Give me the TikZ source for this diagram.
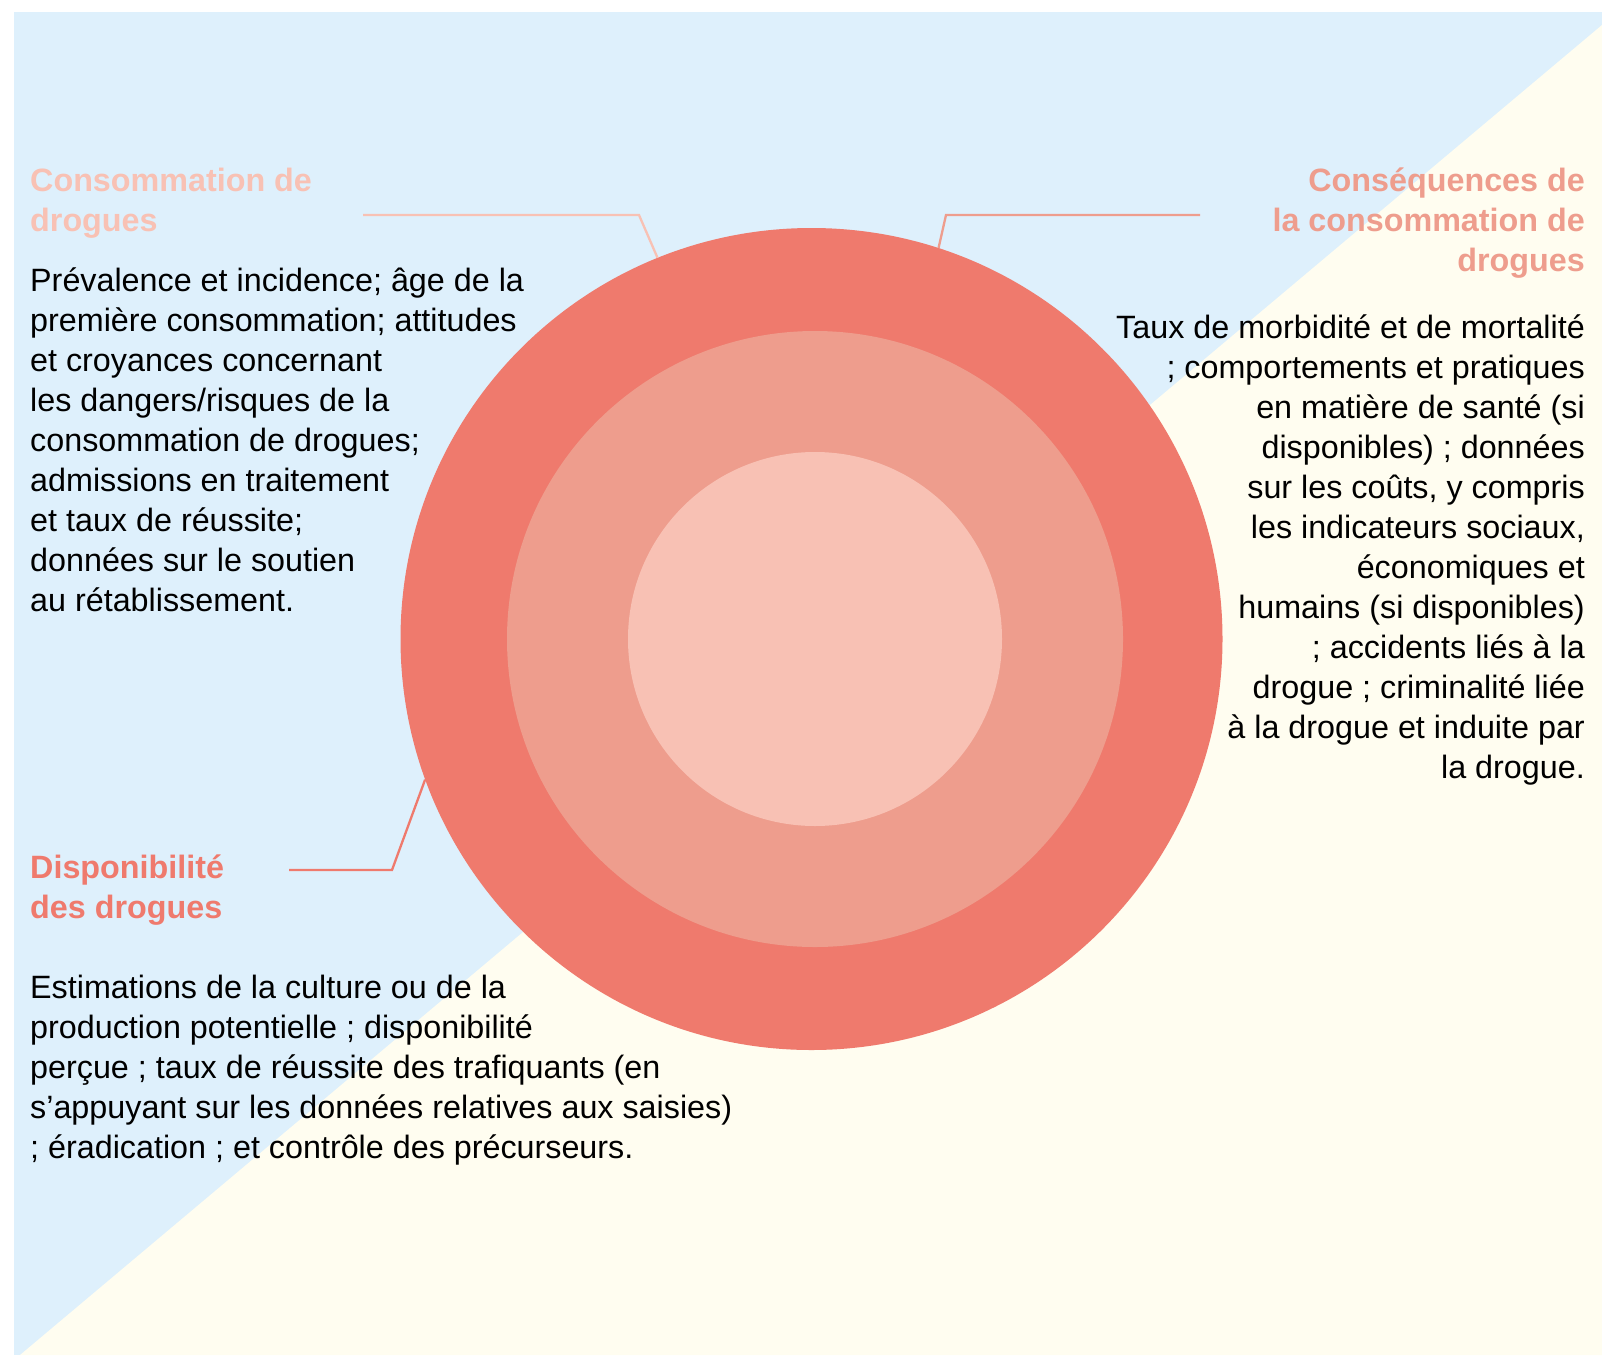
\documentclass[tikz,border=0pt]{standalone}
\usepackage{fontspec}
\setmainfont{Liberation Sans}

\definecolor{skyback}{HTML}{DEF0FC}
\definecolor{creamback}{HTML}{FFFDF0}
\definecolor{ringout}{HTML}{EF7A6D}
\definecolor{ringmid}{HTML}{EE9D8D}
\definecolor{ringin}{HTML}{F8C1B4}

\tikzset{
  ring/.style={circle, inner sep=0pt, draw=none, fill=#1},
  bodytext/.style={inner sep=0pt, font=\fontsize{32.3}{40}\selectfont},
  headtext/.style={inner sep=0pt, font=\fontsize{32.3}{40}\selectfont\bfseries, text=#1},
  leader/.style={line width=2.3pt, draw=#1},
}

\begin{document}
\begin{tikzpicture}[x=1pt,y=1pt,yscale=-1]
\useasboundingbox (0,0) rectangle (1602,1355);

%Shape: Background panel
\fill[skyback] (14,12) rectangle (1602,1355);
\fill[creamback] (1602,25) -- (1602,1355) -- (20,1355) -- cycle;

%Shape: Circles
\node[ring=ringout, minimum size=822] (outer) at (811.5,639) {};
\node[ring=ringmid, minimum size=616] (middle) at (815,639) {};
\node[ring=ringin, minimum size=374] (inner) at (815,639) {};

%Straight Lines: leaders
\coordinate (usestart) at (363,215);
\coordinate (usebend) at (639,215);
\coordinate (effstart) at (1200,215);
\coordinate (effbend) at (946,215);
\coordinate (supstart) at (289,870);
\coordinate (supbend) at (392,870);
\draw[leader=ringin] (usestart) -- (usebend) -- (outer.112.8);
\draw[leader=ringmid] (effstart) -- (effbend) -- (outer.72.2);
\draw[leader=ringout] (supstart) -- (supbend) -- (outer.200.7);

% Text Node (anchored at the baseline of the last line)
\node[headtext=ringin, align=left, anchor=base west] (usetitle) at (30,231) {Consommation de\\drogues};
% Text Node
\node[bodytext, align=left, anchor=base west] (usebody) at (30,611) {Prévalence et incidence; âge de la\\première consommation; attitudes\\et croyances concernant\\les dangers/risques de la\\consommation de drogues;\\admissions en traitement\\et taux de réussite;\\données sur le soutien\\au rétablissement.};
% Text Node
\node[headtext=ringmid, align=right, anchor=base east] (efftitle) at (1585,271) {Conséquences de\\la consommation de\\drogues};
% Text Node
\node[bodytext, align=right, anchor=base east] (effbody) at (1585,778) {Taux de morbidité et de mortalité\\; comportements et pratiques\\en matière de santé (si\\disponibles) ; données\\sur les coûts, y compris\\les indicateurs sociaux,\\économiques et\\humains (si disponibles)\\; accidents liés à la\\drogue ; criminalité liée\\à la drogue et induite par\\la drogue.};
% Text Node
\node[headtext=ringout, align=left, anchor=base west] (suptitle) at (30,918) {Disponibilité\\des drogues};
% Text Node
\node[bodytext, align=left, anchor=base west] (supbody) at (30,1158) {Estimations de la culture ou de la\\production potentielle ; disponibilité\\perçue ; taux de réussite des trafiquants (en\\s’appuyant sur les données relatives aux saisies)\\; éradication ; et contrôle des précurseurs.};

\end{tikzpicture}
\end{document}
